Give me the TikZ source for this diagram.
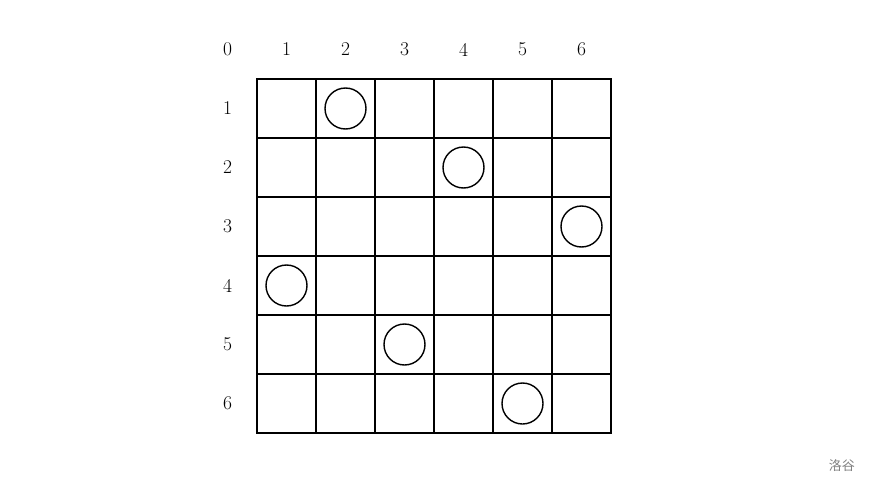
\documentclass[tikz,border=0pt]{standalone}
\usepackage{fontspec}
\newfontfamily\cjk{Noto Sans CJK SC}
\tikzstyle{queen} = [circle, draw, line width=1.4pt, minimum size=41pt, inner sep=0pt]
\tikzstyle{num} = [font=\fontsize{19.5}{22}\selectfont, inner sep=0pt]
\tikzstyle{gridline} = [line width=1.6pt]

\begin{document}
\begin{tikzpicture}[x=59pt,y=-59pt]
    \useasboundingbox (-4.356,-1.339) rectangle (10.373,6.881);

    % Labels
    \node [num] (n0) at (-0.5,-0.5) {0};
    \foreach \i in {1,...,6} {
        \node [num] (c\i) at (\i-0.5,-0.5) {\i};
        \node [num] (r\i) at (-0.5,\i-0.5) {\i};
    }

    % Board
    \foreach \i in {1,...,5} {
        \draw [gridline] (\i,0) -- (\i,6);
        \draw [gridline] (0,\i) -- (6,\i);
    }
    \draw [line width=2.4pt] (0,0) rectangle (6,6);

    % Queens
    \foreach \r/\c in {1/2,2/4,3/6,4/1,5/3,6/5}
        \node [queen] (q\r) at (\c-0.5,\r-0.5) {};

    \node [text=gray, font=\cjk\fontsize{13}{15}\selectfont] (mark) at (9.915,6.55) {洛谷};

\end{tikzpicture}
\end{document}
